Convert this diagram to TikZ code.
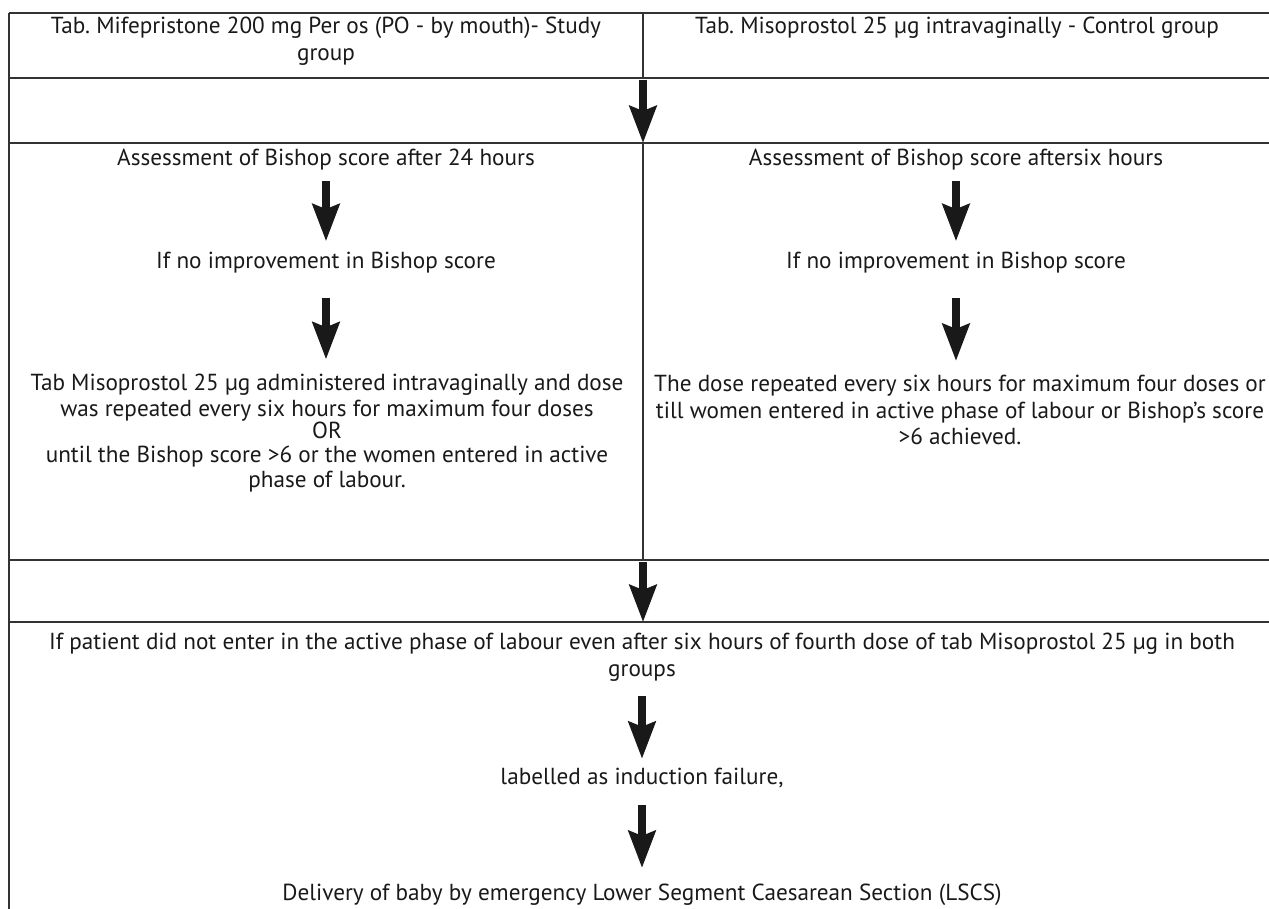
\documentclass[tikz,border=0pt]{standalone}
\usepackage{fontspec}
\setmainfont{PT Sans}
\linespread{1.275}
\usetikzlibrary{arrows.meta}
\begin{document}
\begin{tikzpicture}[x=0.02cm,y=-0.02cm,
  txt/.style={align=center,inner sep=0pt,text=black!90,font=\fontsize{13.2}{12}\selectfont\frenchspacing},
  rule/.style={line width=1.1pt,black!80},
  down/.style={line width=4pt,black!90,-{Stealth[length=0.74cm,width=0.54cm,inset=0.1cm]}}]
\useasboundingbox (0,0) rectangle (1269,909);
\draw[rule] (9,13)--(1269,13);
\foreach \y in {78,143,560,622}{\draw[rule] (9,\y)--(1269,\y);}
\draw[rule] (9,13)--(9,909);
\draw[rule] (643,13)--(643,78);
\draw[rule] (643,143)--(643,560);
\coordinate (m1) at (643,80);
\coordinate (m2) at (643,143);
\coordinate (m3) at (643,562);
\coordinate (m4) at (643,622);
\node[txt] (hdL) at (326,41) {Tab. Mifepristone 200 mg Per os (PO - by mouth)- Study\\group};
\node[txt] (hdR) at (957,28) {Tab. Misoprostol 25 µg intravaginally - Control group};
\node[txt] (asL) at (326,160) {Assessment of Bishop score after 24 hours};
\node[txt] (asR) at (956,160) {Assessment of Bishop score aftersix hours};
\node[txt] (noL) at (326,263) {If no improvement in Bishop score};
\node[txt] (noR) at (956,263) {If no improvement in Bishop score};
\node[txt] (txL) at (327,433) {Tab Misoprostol 25 µg administered intravaginally and dose\\was repeated every six hours for maximum four doses\\[-2.8pt]OR\\[-1.7pt]until the Bishop score >6 or the women entered in active\\[-1.1pt]phase of labour.};
\node[txt] (txR) at (960,410) {The dose repeated every six hours for maximum four doses or\\till women entered in active phase of labour or Bishop’s score\\[-0.5pt]>6 achieved.};
\node[txt] (pat) at (642,657) {If patient did not enter in the active phase of labour even after six hours of fourth dose of tab Misoprostol 25 µg in both\\groups};
\node[txt] (fail) at (642,778) {labelled as induction failure,};
\node[txt] (lscs) at (642,895) {Delivery of baby by emergency Lower Segment Caesarean Section (LSCS)};
\draw[down] (m1)--(m2);
\draw[down] (m3)--(m4);
\draw[down,shorten <=0.2cm,shorten >=0.22cm] (asL)--(noL);
\draw[down,shorten <=0.2cm,shorten >=0.22cm] (asR.south-|noR)--(noR);
\draw[down,shorten <=0.48cm,shorten >=0.28cm] (noL)--(noL|-txL.north);
\draw[down,shorten <=0.48cm,shorten >=0.28cm] (noR)--(noR|-txR.north);
\draw[down,shorten <=0.28cm,shorten >=0.18cm] (pat)--(fail);
\draw[down,shorten <=0.34cm,shorten >=0.32cm] (fail)--(lscs);
\end{tikzpicture}
\end{document}
